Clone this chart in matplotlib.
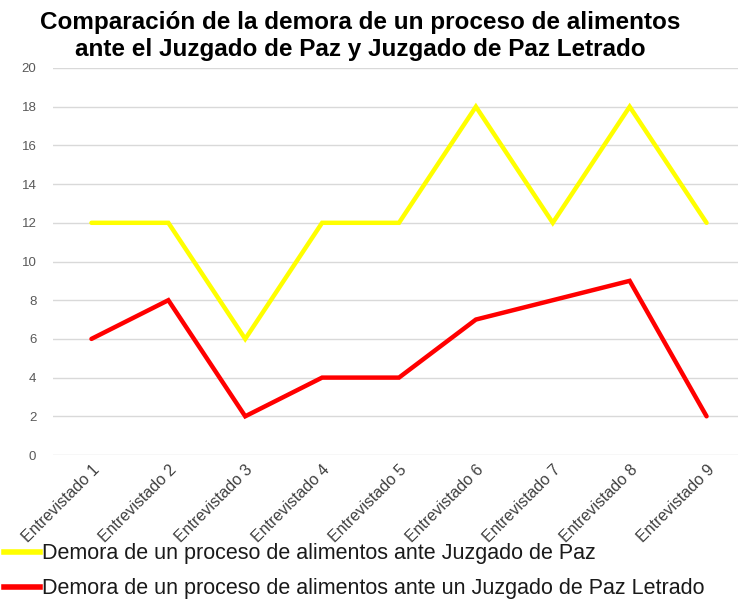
import matplotlib
matplotlib.use("Agg")
import matplotlib.pyplot as plt
from matplotlib.lines import Line2D

plt.rcParams["font.family"] = ["Liberation Sans", "DejaVu Sans"]

categories = [f"Entrevistado {i}" for i in range(1, 10)]
juzgado_paz = [12, 12, 6, 12, 12, 18, 12, 18, 12]
juzgado_letrado = [6, 8, 2, 4, 4, 7, 8, 9, 2]
label_paz = "Demora de un proceso de alimentos ante Juzgado de Paz"
label_letrado = "Demora de un proceso de alimentos ante un Juzgado de Paz Letrado"
title = ("Comparación de la demora de un proceso de alimentos\n"
         "ante el Juzgado de Paz y Juzgado de Paz Letrado")

W, H = 738, 602
fig = plt.figure(figsize=(W / 100, H / 100), dpi=100)
ax = fig.add_axes([53 / W, 1 - 455 / H, (745 - 53) / W, (455 - 68) / H])

x = range(len(categories))
ax.plot(x, juzgado_paz, color="#FFFF00", lw=3.2, solid_capstyle="round",
        solid_joinstyle="miter")
ax.plot(x, juzgado_letrado, color="#FF0000", lw=3.2, solid_capstyle="round",
        solid_joinstyle="miter")

ax.set_xlim(-0.5, len(categories) - 0.5)
ax.set_ylim(0, 20)
ax.set_yticks(range(0, 21, 2))
ax.yaxis.grid(True, color="#D9D9D9", lw=1)
ax.set_axisbelow(True)
for s in ax.spines.values():
    s.set_visible(False)
ax.tick_params(axis="both", length=0, colors="#595959", labelsize=9.5)
ax.tick_params(axis="y", pad=12)
ax.tick_params(axis="x", pad=5)
ax.set_xticks(list(x))
ax.set_xticklabels(categories, rotation=45, ha="right", rotation_mode="anchor",
                   fontsize=11.5, color="#404040")

fig.text(360 / W, 1 - 36 / H, title, ha="center", va="center",
         fontsize=17.5, fontweight="bold", linespacing=1.25)

handles = [Line2D([], [], color="#FFFF00", lw=4),
           Line2D([], [], color="#FF0000", lw=4)]
fig.legend(handles, [label_paz, label_letrado], loc="upper left",
           bbox_to_anchor=(0 / W, 1 - 539 / H), frameon=False, fontsize=15.5,
           handlelength=1.65, handletextpad=0.1, labelspacing=0.65,
           borderpad=0.2, borderaxespad=0, labelcolor="#1a1a1a")

fig.savefig("out.png", dpi=100)
